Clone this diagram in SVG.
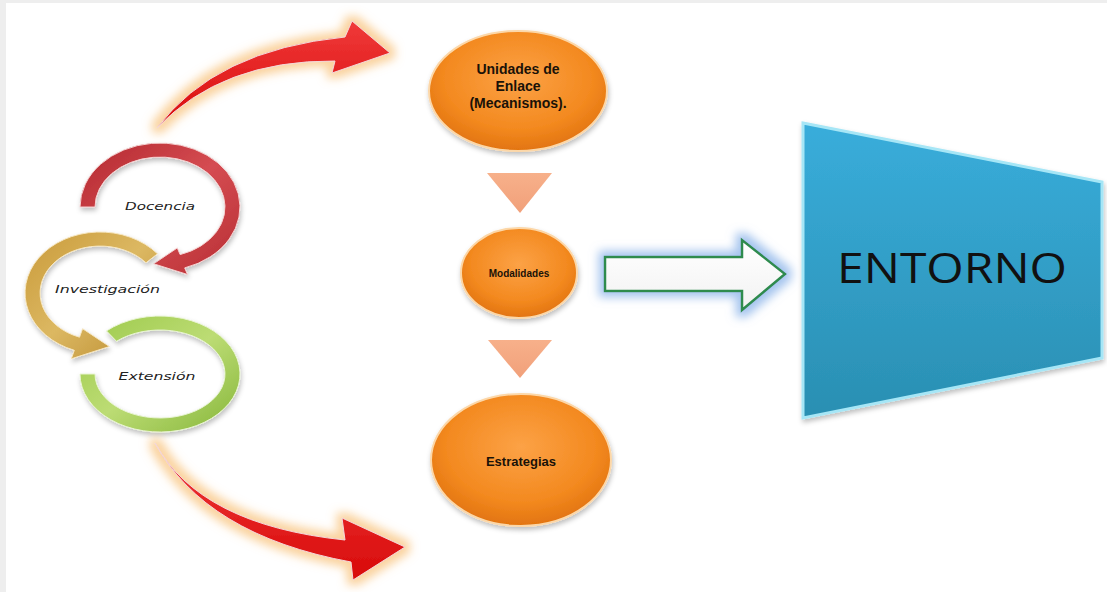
<svg xmlns="http://www.w3.org/2000/svg" width="1107" height="592" viewBox="0 0 1107 592">
  <defs>
    <style>
      .ringtxt { font-family: "DejaVu Sans", "Liberation Sans", sans-serif; font-style: italic; font-size: 11px; fill: #222; }
      .orgtxt { font-family: "Liberation Sans", Arial, sans-serif; font-weight: bold; fill: #1a1208; text-anchor: middle; }
      .orb { fill: url(#gOrange); stroke: #fcd7a8; stroke-width: 2; filter: url(#shadow); }
      .tri { fill: url(#gTri); }
      .redArrow { fill: url(#gRed); stroke: #f3d6d6; stroke-width: 1; filter: url(#glowOrange); }
    </style>
    <radialGradient id="gOrange" cx="0.5" cy="0.4" r="0.6">
      <stop offset="0" stop-color="#fca246"/>
      <stop offset="0.7" stop-color="#f3891f"/>
      <stop offset="1" stop-color="#e27410"/>
    </radialGradient>
    <linearGradient id="gTri" x1="0" y1="0" x2="0" y2="1">
      <stop offset="0" stop-color="#f7b08a"/>
      <stop offset="1" stop-color="#f1a07a"/>
    </linearGradient>
    <linearGradient id="gRed" x1="0" y1="0" x2="0" y2="1">
      <stop offset="0" stop-color="#f03a3a"/>
      <stop offset="1" stop-color="#d80a0a"/>
    </linearGradient>
    <linearGradient id="gRing1" x1="0" y1="0" x2="1" y2="1">
      <stop offset="0" stop-color="#b3282e"/>
      <stop offset="0.5" stop-color="#d54c52"/>
      <stop offset="1" stop-color="#b72e33"/>
    </linearGradient>
    <linearGradient id="gRing2" x1="0" y1="0" x2="1" y2="1">
      <stop offset="0" stop-color="#c99a3a"/>
      <stop offset="0.5" stop-color="#dcb862"/>
      <stop offset="1" stop-color="#b98a2e"/>
    </linearGradient>
    <linearGradient id="gRing3" x1="0" y1="0" x2="1" y2="1">
      <stop offset="0" stop-color="#9cc94a"/>
      <stop offset="0.5" stop-color="#bcdc74"/>
      <stop offset="1" stop-color="#86b63a"/>
    </linearGradient>
    <linearGradient id="gBlue" x1="0" y1="0" x2="0" y2="1">
      <stop offset="0" stop-color="#39addb"/>
      <stop offset="1" stop-color="#2a8fb2"/>
    </linearGradient>
    <linearGradient id="gWhite" x1="0" y1="0" x2="0" y2="1">
      <stop offset="0" stop-color="#ffffff"/>
      <stop offset="1" stop-color="#f2f2f2"/>
    </linearGradient>
    <filter id="shadow" x="-20%" y="-20%" width="140%" height="150%">
      <feGaussianBlur in="SourceAlpha" stdDeviation="2.5"/>
      <feOffset dx="1" dy="3" result="b"/>
      <feFlood flood-color="#000" flood-opacity="0.25"/>
      <feComposite in2="b" operator="in"/>
      <feMerge><feMergeNode/><feMergeNode in="SourceGraphic"/></feMerge>
    </filter>
    <filter id="glowOrange" x="-30%" y="-30%" width="160%" height="160%">
      <feMorphology in="SourceAlpha" operator="dilate" radius="5"/>
      <feGaussianBlur stdDeviation="5" result="b"/>
      <feFlood flood-color="#f7b55e" flood-opacity="0.6"/>
      <feComposite in2="b" operator="in"/>
      <feMerge><feMergeNode/><feMergeNode in="SourceGraphic"/></feMerge>
    </filter>
    <filter id="glowBlue" x="-20%" y="-40%" width="140%" height="180%">
      <feMorphology in="SourceAlpha" operator="dilate" radius="5"/>
      <feGaussianBlur stdDeviation="5" result="b"/>
      <feFlood flood-color="#8fb6ea" flood-opacity="0.8"/>
      <feComposite in2="b" operator="in"/>
      <feMerge><feMergeNode/><feMergeNode in="SourceGraphic"/></feMerge>
    </filter>
  </defs>

  <rect x="0" y="0" width="1107" height="592" fill="#eeeeee"/>
  <rect x="6" y="3" width="1101" height="589" fill="#ffffff"/>

  <!-- Cycle rings -->
  <g id="docencia">
    <path d="M80,207 A80,64 0 1,1 184.7,267.9 L187.5,274.5 L153.7,263.8 L177.3,247.9 L180.1,254.6 A65,50 0 1,0 95,207 Z" fill="url(#gRing1)" stroke="#f4d0d0" stroke-width="1" filter="url(#shadow)"/>
    <text class="ringtxt" x="160" y="210" text-anchor="middle" textLength="70" lengthAdjust="spacingAndGlyphs">Docencia</text>
  </g>
  <g id="investigacion">
    <path d="M157.5,253.8 A75,61 0 1,0 74.3,350.3 L71.3,358.8 L109.4,346.5 L82.6,328.7 L79.5,337.2 A60,47 0 1,1 146,262.8 Z" fill="url(#gRing2)" stroke="#f6e6c0" stroke-width="1" filter="url(#shadow)"/>
    <text class="ringtxt" x="55" y="293" textLength="105" lengthAdjust="spacingAndGlyphs">Investigación</text>
  </g>
  <g id="extension">
    <path d="M106.5,330.9 A80,58 0 1,1 80,374 L95,374 A65,44 0 1,0 116.5,341.3 Z" fill="url(#gRing3)" stroke="#e8f4d2" stroke-width="1" filter="url(#shadow)"/>
    <text class="ringtxt" x="157" y="380" text-anchor="middle" textLength="77" lengthAdjust="spacingAndGlyphs">Extensión</text>
  </g>

  <!-- Connectors -->
  <g id="connectors">
    <path class="redArrow" d="M157,128 Q215,50 345,37 L352,21 L390,53 L332,73 L335,61 Q222,60 157,128 Z"/>
    <path class="redArrow" d="M155,443 Q200,525 345,540 L342,518 L405,547 L353,580 L351,562 Q205,535 155,443 Z"/>
    <polygon class="tri" points="487,173 552,173 520,213"/>
    <polygon class="tri" points="488,340 552,340 520,378"/>
    <path d="M605,257 L742,257 L742,240 L785,274 L742,310 L742,291 L605,291 Z" fill="url(#gWhite)" stroke="#2e8b4e" stroke-width="2.5" stroke-linejoin="miter" filter="url(#glowBlue)"/>
  </g>

  <!-- Orange nodes -->
  <g id="unidades">
    <ellipse class="orb" cx="518" cy="91" rx="89" ry="60"/>
    <text class="orgtxt" font-size="14" x="518" y="74">Unidades de</text>
    <text class="orgtxt" font-size="14" x="518" y="91">Enlace</text>
    <text class="orgtxt" font-size="14" x="518" y="108">(Mecanismos).</text>
  </g>
  <g id="modalidades">
    <ellipse class="orb" cx="519" cy="273" rx="58" ry="45"/>
    <text class="orgtxt" font-size="10" x="519" y="277">Modalidades</text>
  </g>
  <g id="estrategias">
    <ellipse class="orb" cx="521" cy="460" rx="90" ry="66"/>
    <text class="orgtxt" font-size="13" x="521" y="466">Estrategias</text>
  </g>

  <!-- ENTORNO -->
  <g id="entorno">
    <polygon points="803,123 1102,182 1102,358 803,418" fill="url(#gBlue)" stroke="#a6e6f6" stroke-width="3" filter="url(#shadow)"/>
    <text x="952" y="283" text-anchor="middle" font-family="'Open Sans', 'Liberation Sans', sans-serif" font-size="42" fill="#111" textLength="230" lengthAdjust="spacingAndGlyphs">ENTORNO</text>
  </g>
</svg>
